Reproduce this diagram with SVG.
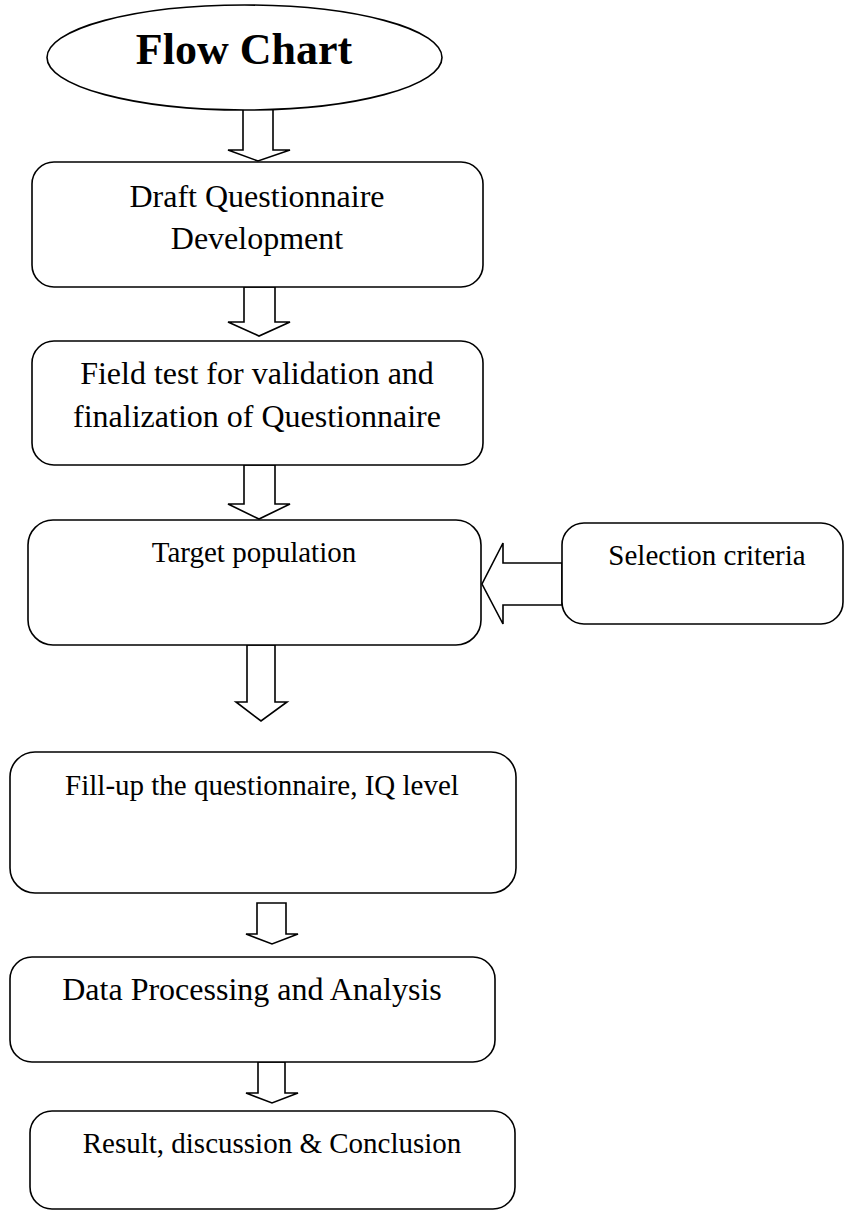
<svg xmlns="http://www.w3.org/2000/svg" width="845" height="1211" viewBox="0 0 845 1211">
<style>
.n{fill:#fff;stroke:#000;stroke-width:1.6}
.a{fill:#fff;stroke:#000;stroke-width:1.6;stroke-linejoin:miter}
.t{font-family:"Liberation Serif","Times New Roman",serif;fill:#000;text-anchor:middle}
</style>
<rect width="845" height="1211" fill="#fff"/>
<g id="connectors">
<polygon class="a" points="243,108 273,108 273,150 290,150 258,161 228,150 243,150"/>
<polygon class="a" points="244,287 275,287 275,322 290,322 259,336 228,322 244,322"/>
<polygon class="a" points="244,465 275,465 275,504 290,504 259,519 228,504 244,504"/>
<polygon class="a" points="247,645 275,645 275,702 287,702 261,721 236,702 247,702"/>
<polygon class="a" points="562,563 503,563 503,543 482,584 503,624 503,605 562,605"/>
<polygon class="a" points="257,903 286,903 286,934 298,934 272,944 246,934 257,934"/>
<polygon class="a" points="258,1062 285,1062 285,1093 298,1093 272,1103 246,1093 258,1093"/>
</g>
<g id="start">
<ellipse class="n" cx="244.5" cy="57.5" rx="197.5" ry="52.5"/>
<text class="t" x="244" y="64" font-size="44" font-weight="bold">Flow Chart</text>
</g>
<g id="draft">
<rect class="n" x="32" y="162" width="451" height="125" rx="22"/>
<text class="t" x="257" y="207" font-size="32">Draft Questionnaire</text>
<text class="t" x="257" y="249" font-size="32">Development</text>
</g>
<g id="field">
<rect class="n" x="32" y="341" width="451" height="124" rx="22"/>
<text class="t" x="257" y="384" font-size="32">Field test for validation and</text>
<text class="t" x="257" y="427" font-size="32">finalization of Questionnaire</text>
</g>
<g id="target">
<rect class="n" x="28" y="520" width="453" height="125" rx="25"/>
<text class="t" x="254" y="562" font-size="29">Target population</text>
</g>
<g id="selection">
<rect class="n" x="562" y="523" width="281" height="101" rx="22"/>
<text class="t" x="707" y="565" font-size="29">Selection criteria</text>
</g>
<g id="fillup">
<rect class="n" x="10" y="752" width="506" height="141" rx="25"/>
<text class="t" x="262" y="795" font-size="29">Fill-up the questionnaire, IQ level</text>
</g>
<g id="data">
<rect class="n" x="10" y="957" width="485" height="105" rx="22"/>
<text class="t" x="252" y="1000" font-size="32">Data Processing and Analysis</text>
</g>
<g id="result">
<rect class="n" x="30" y="1111" width="485" height="98" rx="22"/>
<text class="t" x="272" y="1153" font-size="29">Result, discussion &amp; Conclusion</text>
</g>
</svg>
